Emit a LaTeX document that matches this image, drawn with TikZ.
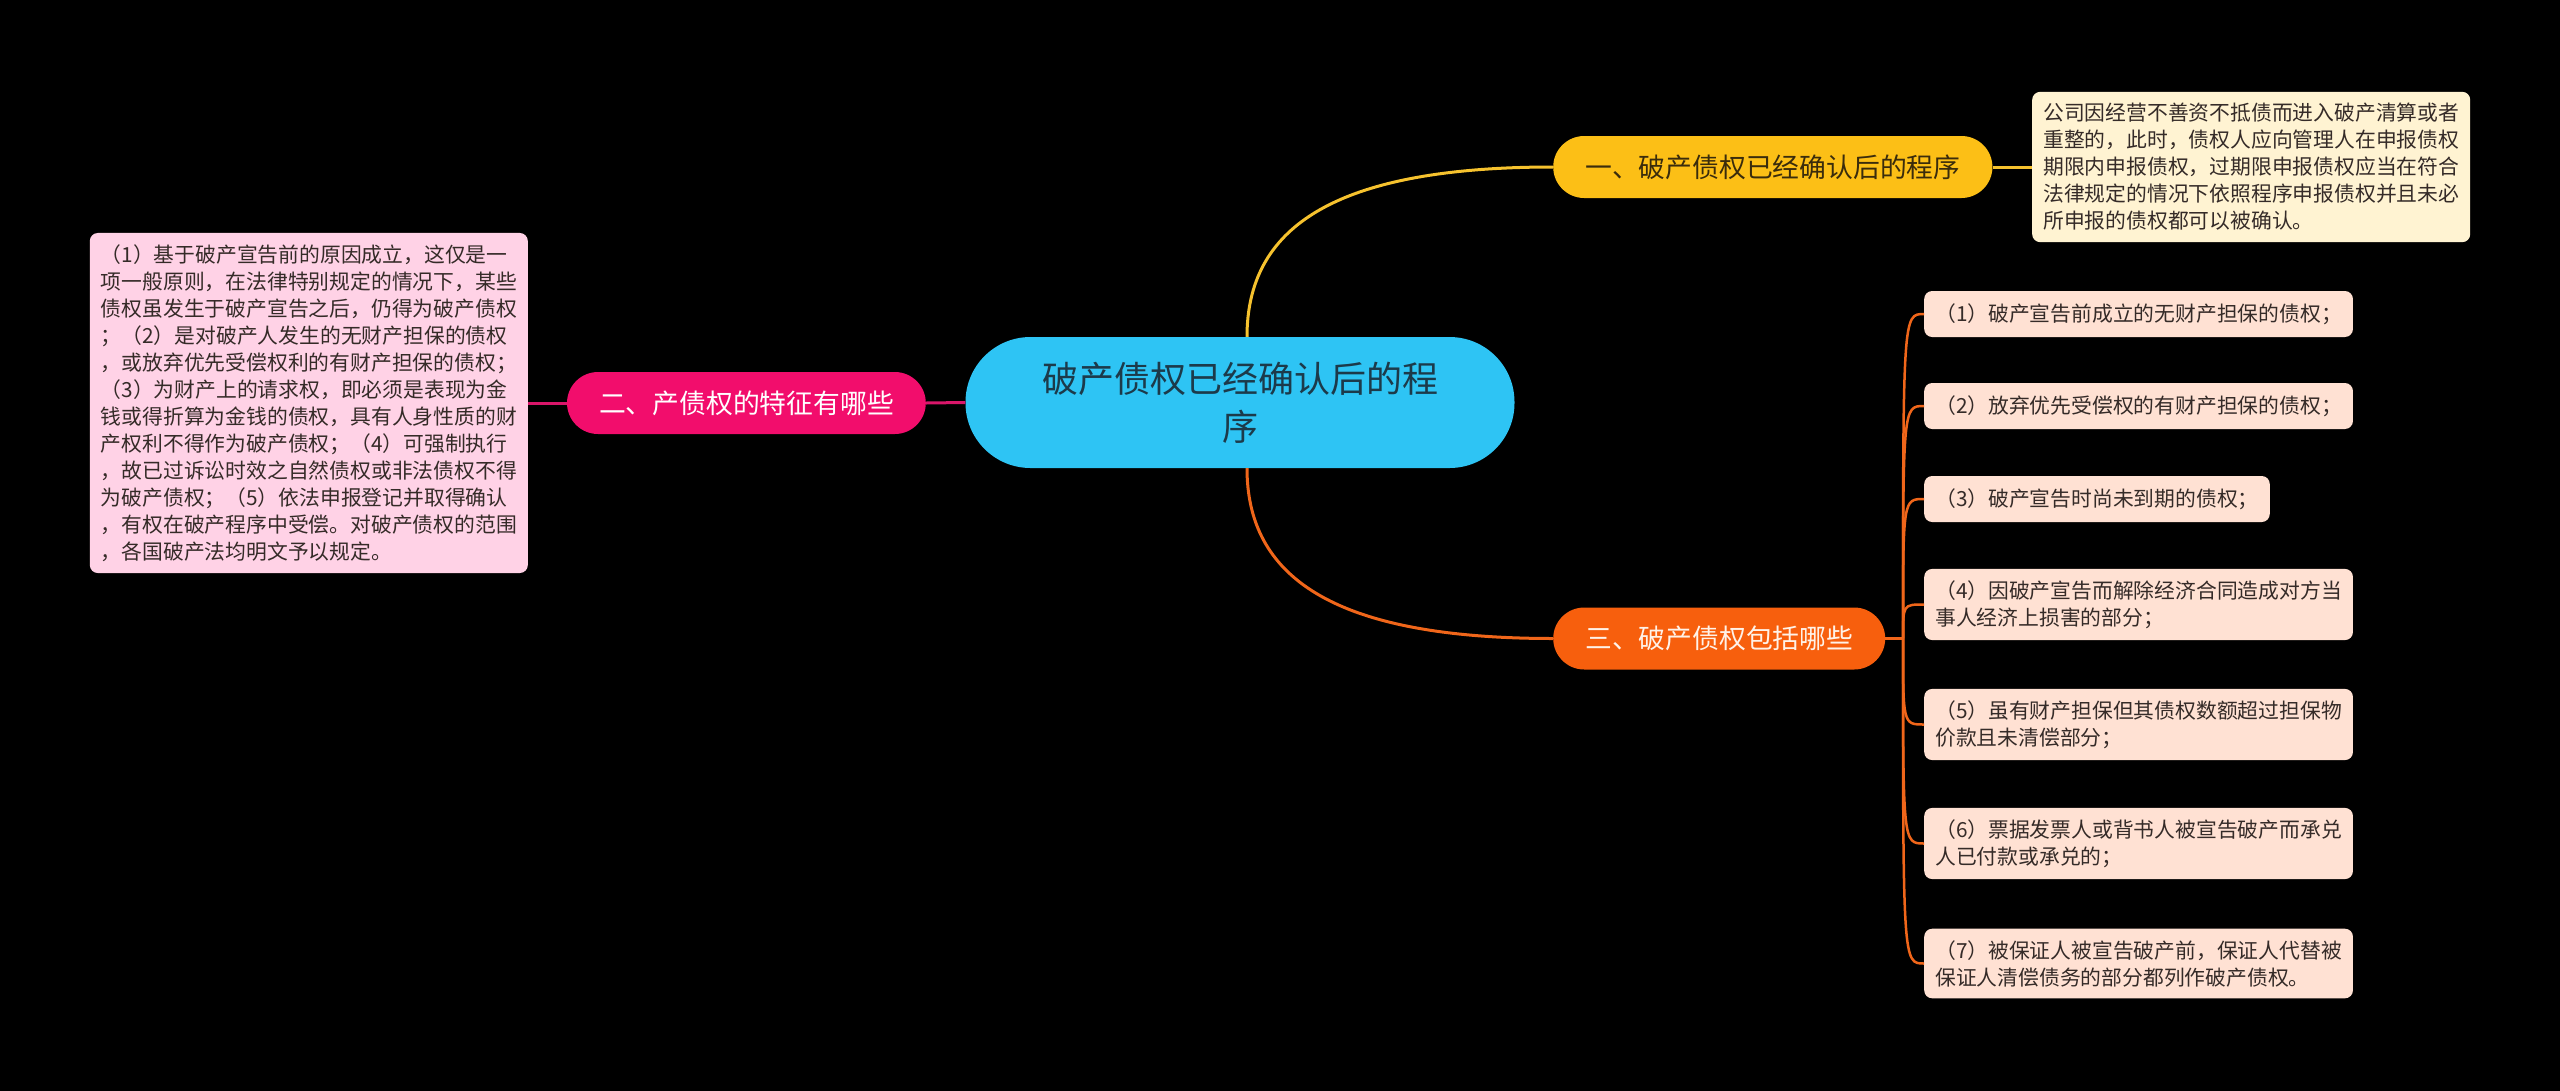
\documentclass[tikz,border=0pt]{standalone}
\usepackage{fontspec}
\newfontfamily\cjk{Noto Sans CJK SC}
\definecolor{bg}{HTML}{000000}
\definecolor{rootfill}{HTML}{2EC4F4}
\definecolor{roottext}{HTML}{1C3A4A}
\definecolor{yelfill}{HTML}{FCBF16}
\definecolor{yelline}{HTML}{F6C22E}
\definecolor{yeltext}{HTML}{3A2C0C}
\definecolor{magfill}{HTML}{F20D6C}
\definecolor{magline}{HTML}{D9166A}
\definecolor{orgfill}{HTML}{F75F0D}
\definecolor{orgline}{HTML}{F0661A}
\definecolor{orgtext}{HTML}{FFF2E8}
\definecolor{pinkleaf}{HTML}{FFD2E6}
\definecolor{creamleaf}{HTML}{FFF3D2}
\definecolor{peachleaf}{HTML}{FFE1D3}
\definecolor{leaftext}{HTML}{352B28}

\begin{document}
\begin{tikzpicture}[x=1pt,y=-1pt,
  root/.style={fill=rootfill,text=roottext,rounded corners=65pt,minimum width=549pt,minimum height=131pt,align=center,font=\cjk\fontsize{36}{48}\selectfont},
  branch/.style={rounded corners=31pt,minimum height=62pt,inner xsep=32pt,font=\cjk\fontsize{26.8}{32}\selectfont},
  leaf/.style={anchor=west,rounded corners=8pt,align=left,inner xsep=11pt,inner ysep=11.5pt,text=leaftext,font=\cjk\fontsize{20.8}{27}\selectfont},
  single/.style={minimum height=46pt},
  link/.style={line width=3pt},
  sublink/.style={line width=2.5pt,orgline}]
\useasboundingbox (0,0) rectangle (2560,1090);
\fill[bg] (-10,-10) rectangle (2570,1100);
% centre and main branches
\node[root] (root) at (1240,402.5) {破产债权已经确认后的程\\序};
\node[branch,fill=yelfill,text=yeltext,anchor=west] (b1) at (1553,167) {一、破产债权已经确认后的程序};
\node[branch,fill=magfill,text=white,anchor=east] (b2) at (926,403) {二、产债权的特征有哪些};
\node[branch,fill=orgfill,text=orgtext,anchor=west] (b3) at (1553,638.5) {三、破产债权包括哪些};
% leaves
\node[leaf,fill=creamleaf] (b1l) at (2032,167) {公司因经营不善资不抵债而进入破产清算或者\\重整的，此时，债权人应向管理人在申报债权\\期限内申报债权，过期限申报债权应当在符合\\法律规定的情况下依照程序申报债权并且未必\\所申报的债权都可以被确认。};
\node[leaf,fill=pinkleaf,anchor=east] (b2l) at (528,403) {（1）基于破产宣告前的原因成立，这仅是一\\项一般原则，在法律特别规定的情况下，某些\\债权虽发生于破产宣告之后，仍得为破产债权\\；（2）是对破产人发生的无财产担保的债权\\，或放弃优先受偿权利的有财产担保的债权；\\（3）为财产上的请求权，即必须是表现为金\\钱或得折算为金钱的债权，具有人身性质的财\\产权利不得作为破产债权；（4）可强制执行\\，故已过诉讼时效之自然债权或非法债权不得\\为破产债权；（5）依法申报登记并取得确认\\，有权在破产程序中受偿。对破产债权的范围\\，各国破产法均明文予以规定。};
\node[leaf,fill=peachleaf,single] (b3l1) at (1924,314) {（1）破产宣告前成立的无财产担保的债权；};
\node[leaf,fill=peachleaf,single] (b3l2) at (1924,406) {（2）放弃优先受偿权的有财产担保的债权；};
\node[leaf,fill=peachleaf,single] (b3l3) at (1924,499) {（3）破产宣告时尚未到期的债权；};
\node[leaf,fill=peachleaf] (b3l4) at (1924,604.5) {（4）因破产宣告而解除经济合同造成对方当\\事人经济上损害的部分；};
\node[leaf,fill=peachleaf] (b3l5) at (1924,724.5) {（5）虽有财产担保但其债权数额超过担保物\\价款且未清偿部分；};
\node[leaf,fill=peachleaf] (b3l6) at (1924,843.5) {（6）票据发票人或背书人被宣告破产而承兑\\人已付款或承兑的；};
\node[leaf,fill=peachleaf] (b3l7) at (1924,963.5) {（7）被保证人被宣告破产前，保证人代替被\\保证人清偿债务的部分都列作破产债权。};
% connectors
\draw[link,yelline] ([xshift=7pt]root.north) .. controls +(0,-107) and +(-223,0) .. (b1.west);
\draw[link,orgline] ([xshift=7pt]root.south) .. controls +(0,107) and +(-223,0) .. (b3.west);
\draw[link,magline] (root.west) -- (b2.east);
\draw[link,magline] (b2.west) -- (b2l.east);
\draw[link,yelline] (b1.east) -- (b1l.west);
\coordinate (bus) at (1903,638.5);
\draw[sublink] (b3.east) -- (bus);
\foreach \n in {1,...,7}
  \draw[sublink] (bus) .. controls (bus |- b3l\n.west) .. (b3l\n.west);
\end{tikzpicture}
\end{document}
